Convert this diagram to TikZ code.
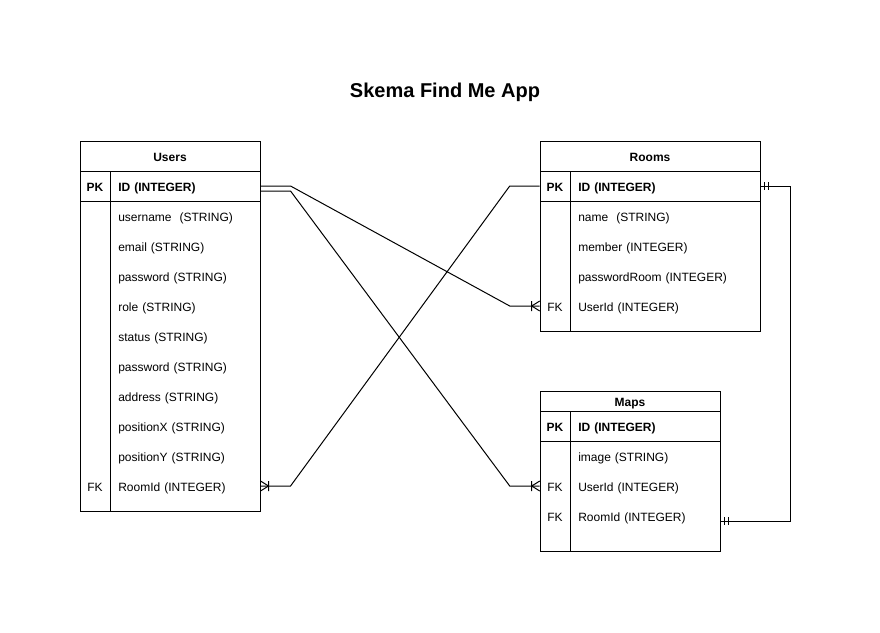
\documentclass[tikz,border=0pt]{standalone}
\usepackage{fontspec}
\setmainfont{Liberation Sans}
\usetikzlibrary{positioning}
\tikzset{
  title/.style={font=\fontsize{15}{18}\selectfont\bfseries},
  hdr/.style={font=\fontsize{9}{11}\selectfont\bfseries, text height=7.5pt, text depth=0pt},
  key/.style={minimum width=22.5pt, minimum height=22.5pt, inner sep=0pt,
    text height=7.5pt, text depth=0pt, font=\fontsize{9}{11}\selectfont},
  field/.style={anchor=west, minimum height=22.5pt, inner ysep=0pt, inner xsep=6pt,
    text width=#1, align=left, text height=7.5pt, text depth=0pt, font=\fontsize{9}{11}\selectfont},
  field/.default=100.5pt,
  tbl/.style={line width=0.75pt},
  link/.style={line width=0.75pt},
  crowfoot/.pic={\draw[link] (8,0) -- (0,-5) (8,0) -- (0,5) (8,-5) -- (8,5);},
  mandone/.pic={\draw[link] (4,-4) -- (4,4) (8,-4) -- (8,4);},
}
\begin{document}
\begin{tikzpicture}[x=0.75pt, y=-0.75pt]
  \useasboundingbox (0,0) rectangle (880,632);
  \node[title] (heading) at (445,92) {Skema Find Me App};

  % Users table
  \draw[tbl] (80,141) rectangle (260,511);
  \draw[tbl] (80,171) -- (260,171) (80,201) -- (260,201) (110,171) -- (110,511);
  \node[hdr] (users) at (170,156) {Users};
  \node[key, font=\fontsize{9}{11}\selectfont\bfseries] (usersIdK) at (95,186) {PK};
  \node[field, font=\fontsize{9}{11}\selectfont\bfseries] (usersId) at (110,186) {ID (INTEGER)};
  \foreach \txt [count=\i] in {username~ (STRING), email (STRING), password (STRING),
      role (STRING), status (STRING), password (STRING), address (STRING),
      positionX (STRING), positionY (STRING)}
    \node[field] (users\i) at (110,{186+30*\i}) {\txt};
  \node[key] (usersRoomK) at (95,486) {FK};
  \node[field] (usersRoom) at (110,486) {RoomId (INTEGER)};

  % Rooms table
  \draw[tbl] (540,141) rectangle (760,331);
  \draw[tbl] (540,171) -- (760,171) (540,201) -- (760,201) (570,171) -- (570,331);
  \node[hdr] (rooms) at (650,156) {Rooms};
  \node[key, font=\fontsize{9}{11}\selectfont\bfseries] (roomsIdK) at (555,186) {PK};
  \node[field=130.5pt, font=\fontsize{9}{11}\selectfont\bfseries] (roomsId) at (570,186) {ID (INTEGER)};
  \node[field=130.5pt] (roomsName) at (570,216) {name~ (STRING)};
  \node[field=130.5pt] (roomsMember) at (570,246) {member (INTEGER)};
  \node[field=130.5pt] (roomsPass) at (570,276) {passwordRoom (INTEGER)};
  \node[key] (roomsUserK) at (555,306) {FK};
  \node[field=130.5pt] (roomsUser) at (570,306) {UserId (INTEGER)};

  % Maps table
  \draw[tbl] (540,391) rectangle (720,551);
  \draw[tbl] (540,411) -- (720,411) (540,441) -- (720,441) (570,411) -- (570,551);
  \node[hdr] (maps) at (630,401) {Maps};
  \node[key, font=\fontsize{9}{11}\selectfont\bfseries] (mapsIdK) at (555,426) {PK};
  \node[field, font=\fontsize{9}{11}\selectfont\bfseries] (mapsId) at (570,426) {ID (INTEGER)};
  \node[field] (mapsImage) at (570,456) {image (STRING)};
  \node[key] (mapsUserK) at (555,486) {FK};
  \node[field] (mapsUser) at (570,486) {UserId (INTEGER)};
  \node[key] (mapsRoomK) at (555,516) {FK};
  \node[field] (mapsRoom) at (570,516) {RoomId (INTEGER)};

  % Relations
  \draw[link] (usersId.east) -- ++(30,0) -- ([xshift=-22.5pt]roomsUserK.west) -- (roomsUserK.west);
  \pic[rotate=180] at (roomsUserK.west) {crowfoot};
  \draw[link] ([yshift=-3.75pt]usersId.east) -- ++(30,0) -- ([xshift=-22.5pt]mapsUserK.west) -- (mapsUserK.west);
  \pic[rotate=180] at (mapsUserK.west) {crowfoot};
  \draw[link] (roomsIdK.west) -- ++(-30,0) -- ([xshift=22.5pt]usersRoom.east) -- (usersRoom.east);
  \pic at (usersRoom.east) {crowfoot};
  \draw[link] (roomsId.east) -- ++(30,0) |- ([yshift=-3.75pt]mapsRoom.east);
  \pic at (roomsId.east) {mandone};
  \pic at ([yshift=-3.75pt]mapsRoom.east) {mandone};
\end{tikzpicture}
\end{document}
